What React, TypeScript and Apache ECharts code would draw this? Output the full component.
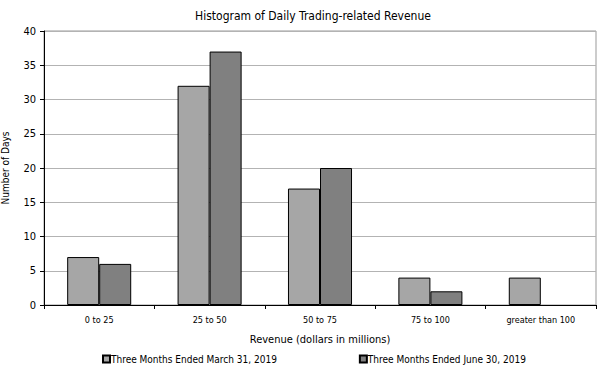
import React, { useEffect, useRef } from "react";
import * as echarts from "echarts";

const categories = ["0 to 25", "25 to 50", "50 to 75", "75 to 100", "greater than 100"];
const march2019 = [7, 32, 17, 4, 4];
const june2019 = [6, 37, 20, 2, 0];
const seriesNames = ["Three Months Ended March 31, 2019", "Three Months Ended June 30, 2019"];

const FONT = "'DejaVu Sans Condensed', 'Liberation Sans Narrow', Arial, sans-serif";

const toBarData = (vals: number[]) =>
  vals.map((v) => (v === 0 ? { value: v, itemStyle: { borderWidth: 0 } } : v));

export default function App() {
  const ref = useRef<HTMLDivElement>(null);
  useEffect(() => {
    if (!ref.current) return;
    const chart = echarts.init(ref.current, undefined, { renderer: "svg" });
    chart.setOption({
      animation: false,
      backgroundColor: "#ffffff",
      textStyle: { fontFamily: FONT },
      title: {
        text: "Histogram of Daily Trading-related Revenue",
        left: 308,
        textAlign: "center",
        top: 5,
        textStyle: { fontFamily: FONT, fontSize: 12, fontWeight: "normal", color: "#000" },
      },
      legend: {
        bottom: 3,
        left: 97,
        itemGap: 82,
        itemWidth: 7,
        itemHeight: 7,
        icon: "rect",
        textStyle: { fontFamily: FONT, fontSize: 10, color: "#000", padding: [0, 0, 0, -4] },
        data: seriesNames,
      },
      grid: {
        left: 44,
        right: 7,
        top: 31,
        bottom: 67,
        outerBoundsMode: "none",
        containLabel: false,
        show: true,
        borderColor: "#999",
        borderWidth: 1,
      },
      xAxis: {
        type: "category",
        data: categories,
        name: "Revenue (dollars in millions)",
        nameLocation: "middle",
        nameGap: 29,
        nameTextStyle: { fontFamily: FONT, fontSize: 11, color: "#000" },
        axisLine: { lineStyle: { color: "#000", width: 1 } },
        axisTick: { show: true, alignWithLabel: false, length: 4, lineStyle: { color: "#000" } },
        axisLabel: { fontFamily: FONT, fontSize: 9, color: "#000", margin: 10 },
      },
      yAxis: {
        type: "value",
        min: 0,
        max: 40,
        interval: 5,
        name: "Number of Days",
        nameLocation: "middle",
        nameGap: 34,
        nameTextStyle: { fontFamily: FONT, fontSize: 10, color: "#000" },
        axisLine: { show: true, lineStyle: { color: "#000", width: 1 } },
        axisTick: { show: true, length: 4, lineStyle: { color: "#000" } },
        axisLabel: { fontFamily: FONT, fontSize: 11, color: "#000", margin: 8 },
        splitLine: { lineStyle: { color: "#b3b3b3", width: 1 } },
      },
      series: [
        {
          name: seriesNames[0],
          type: "bar",
          data: toBarData(march2019),
          barGap: "0%",
          barCategoryGap: "42%",
          itemStyle: { color: "#a6a6a6", borderColor: "#000", borderWidth: 1 },
        },
        {
          name: seriesNames[1],
          type: "bar",
          data: toBarData(june2019),
          barGap: "0%",
          barCategoryGap: "42%",
          itemStyle: { color: "#808080", borderColor: "#000", borderWidth: 1 },
        },
      ],
    });
    return () => chart.dispose();
  }, []);
  return <div ref={ref} style={{ width: 603, height: 372, position: "absolute", left: 0, top: 0 }} />;
}
